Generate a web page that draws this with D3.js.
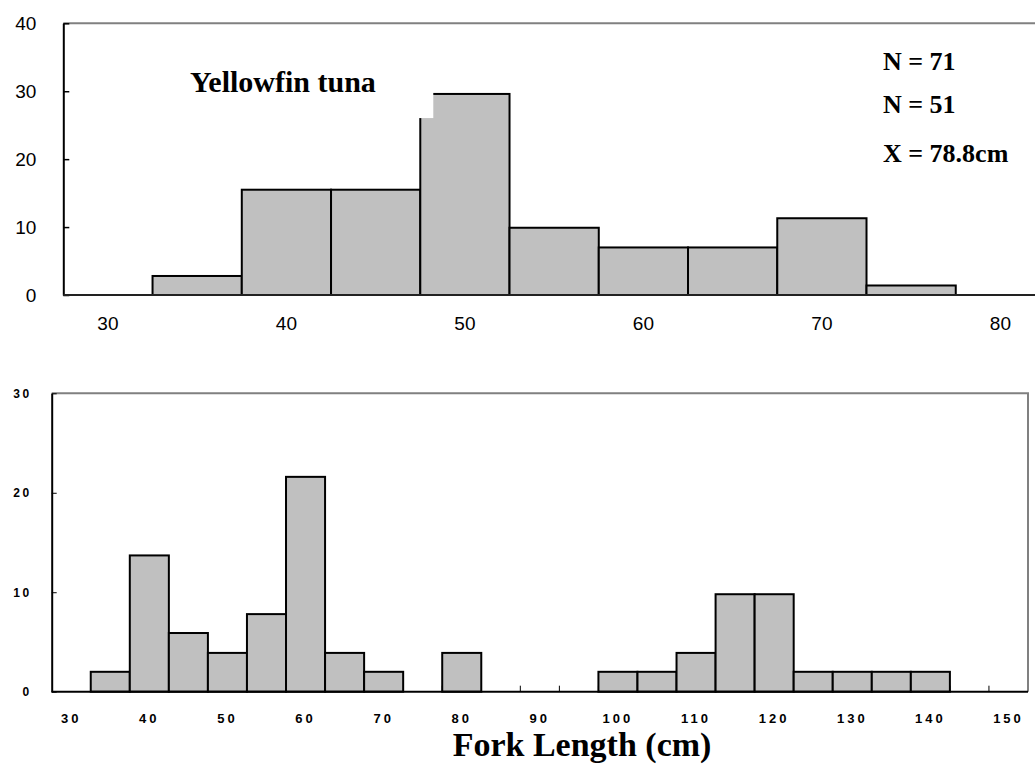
<!DOCTYPE html>
<html>
<head>
<meta charset="utf-8">
<script src="https://cdn.jsdelivr.net/npm/d3@7"></script>
<style>
  html, body { margin: 0; padding: 0; background: #fff; }
  svg { display: block; }
</style>
</head>
<body>
<svg id="chart" width="1035" height="774"></svg>
<script>
// ---- data ----
const topCategories = [30, 35, 40, 45, 50, 55, 60, 65, 70, 75, 80];
const topValues     = [0, 2.8, 15.5, 15.5, 29.6, 9.9, 7.0, 7.0, 11.3, 1.4, 0];
const topYTicks     = [0, 10, 20, 30, 40];
const topXLabels    = [30, 40, 50, 60, 70, 80];

const bottomCategories = [30, 35, 40, 45, 50, 55, 60, 65, 70, 75, 80, 85, 90, 95, 100,
                          105, 110, 115, 120, 125, 130, 135, 140, 145, 150];
const bottomValues     = [0, 2.0, 13.7, 5.9, 3.9, 7.8, 21.6, 3.9, 2.0, 0, 3.9, 0, 0, 0, 2.0,
                          2.0, 3.9, 9.8, 9.8, 2.0, 2.0, 2.0, 2.0, 0, 0];
const bottomYTicks     = [0, 10, 20, 30];
const bottomXLabels    = [30, 40, 50, 60, 70, 80, 90, 100, 110, 120, 130, 140, 150];

const titleText = "Yellowfin tuna";
const statTexts = ["N = 71", "N = 51", "X = 78.8cm"];
const xTitle = "Fork Length (cm)";

const svg = d3.select("#chart");
const SANS = "'Liberation Sans', Arial, sans-serif";
const SERIF = "'Liberation Serif', 'Times New Roman', serif";

// ================= TOP PANEL =================
const T = { left: 63.3, right: 1045, top: 23.3, bottom: 295 };
const xT = d3.scaleBand().domain(topCategories).range([T.left, T.right]).padding(0);
const yT = d3.scaleLinear().domain([0, 40]).range([T.bottom, T.top]);

const gT = svg.append("g");
gT.append("line").attr("x1", T.left).attr("x2", 1035).attr("y1", T.top).attr("y2", T.top)
  .attr("stroke", "#808080").attr("stroke-width", 2);

gT.selectAll("rect.bar").data(topCategories.map((c, i) => ({c, v: topValues[i]})).filter(d => d.v > 0))
  .enter().append("rect").attr("class", "bar")
  .attr("x", d => xT(d.c)).attr("width", xT.bandwidth())
  .attr("y", d => yT(d.v)).attr("height", d => yT(0) - yT(d.v))
  .attr("fill", "#c0c0c0").attr("stroke", "#000").attr("stroke-width", 2);

// white patch (text-box artefact) over top-left of tallest bar
gT.append("rect")
  .attr("x", xT(50) - 2).attr("y", yT(30))
  .attr("width", 15).attr("height", yT(25.9) - yT(30) - 1)
  .attr("fill", "#fff");

const yAxT = d3.axisLeft(yT).tickValues(topYTicks).tickSize(-6).tickPadding(27).tickSizeOuter(0);
const gyT = gT.append("g").attr("transform", `translate(${T.left},0)`).call(yAxT);
gyT.select(".domain").attr("stroke", "#000").attr("stroke-width", 2);
gyT.selectAll(".tick line").attr("stroke", "#000").attr("stroke-width", 1.5);
gyT.selectAll("text").attr("font-family", SANS).attr("font-size", 19).attr("fill", "#000");

const xAxT = d3.axisBottom(xT).tickValues(topXLabels).tickSize(0).tickPadding(22);
const gxT = gT.append("g").attr("transform", `translate(0,${T.bottom})`).call(xAxT);
gxT.select(".domain").remove();
gxT.selectAll("text").attr("font-family", SANS).attr("font-size", 19).attr("fill", "#000");
gT.append("line").attr("x1", T.left).attr("x2", 1035).attr("y1", T.bottom).attr("y2", T.bottom)
  .attr("stroke", "#222").attr("stroke-width", 2);

gT.append("text").attr("x", 190).attr("y", 92)
  .attr("font-family", SERIF).attr("font-weight", "bold").attr("font-size", 30)
  .attr("fill", "#000").text(titleText);
gT.selectAll("text.stat").data(statTexts).enter().append("text").attr("class", "stat")
  .attr("x", 883).attr("y", (d, i) => [70, 113, 162][i])
  .attr("font-family", SERIF).attr("font-weight", "bold").attr("font-size", 26)
  .attr("fill", "#000").text(d => d);

// ================= BOTTOM PANEL =================
const B = { left: 51.7, right: 1028, top: 393.3, bottom: 691.7 };
const xB = d3.scaleBand().domain(bottomCategories).range([B.left, B.right]).padding(0);
const yB = d3.scaleLinear().domain([0, 30]).range([B.bottom, B.top]);

const gB = svg.append("g");
gB.append("path")
  .attr("d", `M${B.left},${B.top}H${B.right}V${B.bottom}`)
  .attr("fill", "none").attr("stroke", "#808080").attr("stroke-width", 2);

const bounds = d3.range(1, bottomCategories.length).map(k => B.left + k * xB.bandwidth());
gB.selectAll("line.xt").data(bounds).enter().append("line").attr("class", "xt")
  .attr("x1", d => d).attr("x2", d => d).attr("y1", B.bottom).attr("y2", B.bottom - 6)
  .attr("stroke", "#000").attr("stroke-width", 1);

gB.selectAll("rect.bar").data(bottomCategories.map((c, i) => ({c, v: bottomValues[i]})).filter(d => d.v > 0))
  .enter().append("rect").attr("class", "bar")
  .attr("x", d => xB(d.c)).attr("width", xB.bandwidth())
  .attr("y", d => yB(d.v)).attr("height", d => yB(0) - yB(d.v))
  .attr("fill", "#c0c0c0").attr("stroke", "#000").attr("stroke-width", 2);

const yAxB = d3.axisLeft(yB).tickValues(bottomYTicks).tickSize(-5).tickPadding(20).tickSizeOuter(0);
const gyB = gB.append("g").attr("transform", `translate(${B.left},0)`).call(yAxB);
gyB.select(".domain").attr("stroke", "#000").attr("stroke-width", 2);
gyB.selectAll(".tick line").attr("stroke", "#000").attr("stroke-width", 1);
gyB.selectAll("text").attr("font-family", SANS).attr("font-weight", "bold")
  .attr("font-size", 12).attr("letter-spacing", "2.5px").attr("fill", "#000");

const xAxB = d3.axisBottom(xB).tickValues(bottomXLabels).tickSize(0).tickPadding(22);
const gxB = gB.append("g").attr("transform", `translate(0,${B.bottom})`).call(xAxB);
gxB.select(".domain").remove();
gxB.selectAll("text").attr("font-family", SANS).attr("font-weight", "bold")
  .attr("font-size", 13).attr("letter-spacing", "3px").attr("fill", "#000");
gB.append("line").attr("x1", B.left).attr("x2", B.right).attr("y1", B.bottom).attr("y2", B.bottom)
  .attr("stroke", "#000").attr("stroke-width", 2);

svg.append("text").attr("x", 582).attr("y", 756).attr("text-anchor", "middle")
  .attr("font-family", SERIF).attr("font-weight", "bold").attr("font-size", 34)
  .attr("fill", "#000").text(xTitle);
</script>
</body>
</html>
